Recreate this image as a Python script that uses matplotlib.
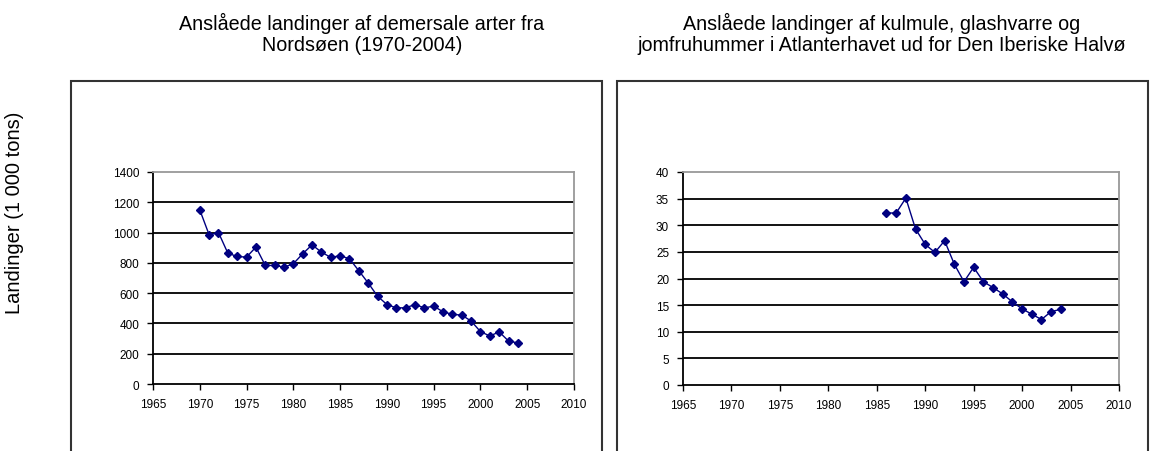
import matplotlib
matplotlib.use("Agg")
import matplotlib.pyplot as plt
from matplotlib.patches import Rectangle

plt.rcParams['font.family'] = ['Liberation Sans', 'DejaVu Sans']

# Nordsøen, demersale arter (1 000 tons)
years_ns = list(range(1970, 2005))
land_ns = [1150, 985, 1000, 864, 842, 838, 904, 783, 783, 772,
           794, 860, 919, 871, 836, 847, 827, 748, 667, 580,
           525, 503, 503, 525, 503, 514, 477, 460, 455, 416,
           346, 317, 344, 284, 271]

# Iberiske Halvø, kulmule/glashvarre/jomfruhummer (1 000 tons)
years_ib = list(range(1986, 2005))
land_ib = [32.3, 32.3, 35.1, 29.3, 26.4, 24.9, 27.1, 22.7, 19.4, 22.1,
           19.4, 18.3, 17.1, 15.6, 14.3, 13.3, 12.3, 13.8, 14.2]

xticks = list(range(1965, 2011, 5))
yticks_ns = list(range(0, 1401, 200))
yticks_ib = list(range(0, 41, 5))

title_ns = "Anslåede landinger af demersale arter fra\nNordsøen (1970-2004)"
title_ib = "Anslåede landinger af kulmule, glashvarre og\njomfruhummer i Atlanterhavet ud for Den Iberiske Halvø"
ylab = "Landinger (1 000 tons)"

W, H = 1150, 452
fig = plt.figure(figsize=(W / 100, H / 100), dpi=100)

# outer frames
for x0, x1 in [(71, 602), (617, 1148)]:
    fig.patches.append(Rectangle((x0 / W, -0.1), (x1 - x0) / W, 0.1 + 1 - 82 / H,
                                 transform=fig.transFigure, fill=False,
                                 edgecolor='#333333', linewidth=1.5))

def panel(rect, xs, ys, yticks):
    ax = fig.add_axes(rect)
    ax.plot(xs, ys, color='#000080', linewidth=1, marker='D', markersize=4,
            markerfacecolor='#000080', markeredgecolor='#000080', zorder=3)
    ax.set_xlim(1965, 2010)
    ax.set_ylim(yticks[0], yticks[-1])
    ax.set_xticks(xticks)
    ax.set_yticks(yticks)
    for y in yticks[1:-1]:
        ax.axhline(y, color='black', linewidth=1.3, zorder=1)
    ax.spines['left'].set_color('black')
    ax.spines['bottom'].set_color('black')
    ax.spines['top'].set_color('#999999')
    ax.spines['right'].set_color('#999999')
    for s in ax.spines.values():
        s.set_linewidth(1.3)
    ax.tick_params(direction='out', length=4, width=1, labelsize=8.5, pad=6)
    return ax

ax1 = panel([153 / W, 1 - 385 / H, 421 / W, 212 / H], years_ns, land_ns, yticks_ns)
ax2 = panel([683 / W, 1 - 386 / H, 436 / W, 213 / H], years_ib, land_ib, yticks_ib)

fig.text(362 / W, 1 - 34 / H, title_ns, ha='center', va='center', fontsize=14.2, linespacing=1.1)
fig.text(882 / W, 1 - 34 / H, title_ib, ha='center', va='center', fontsize=14.2, linespacing=1.1)
fig.text(15 / W, 1 - 213 / H, ylab, rotation=90, ha='center', va='center', fontsize=14.5)

fig.savefig("out.png", dpi=100)
